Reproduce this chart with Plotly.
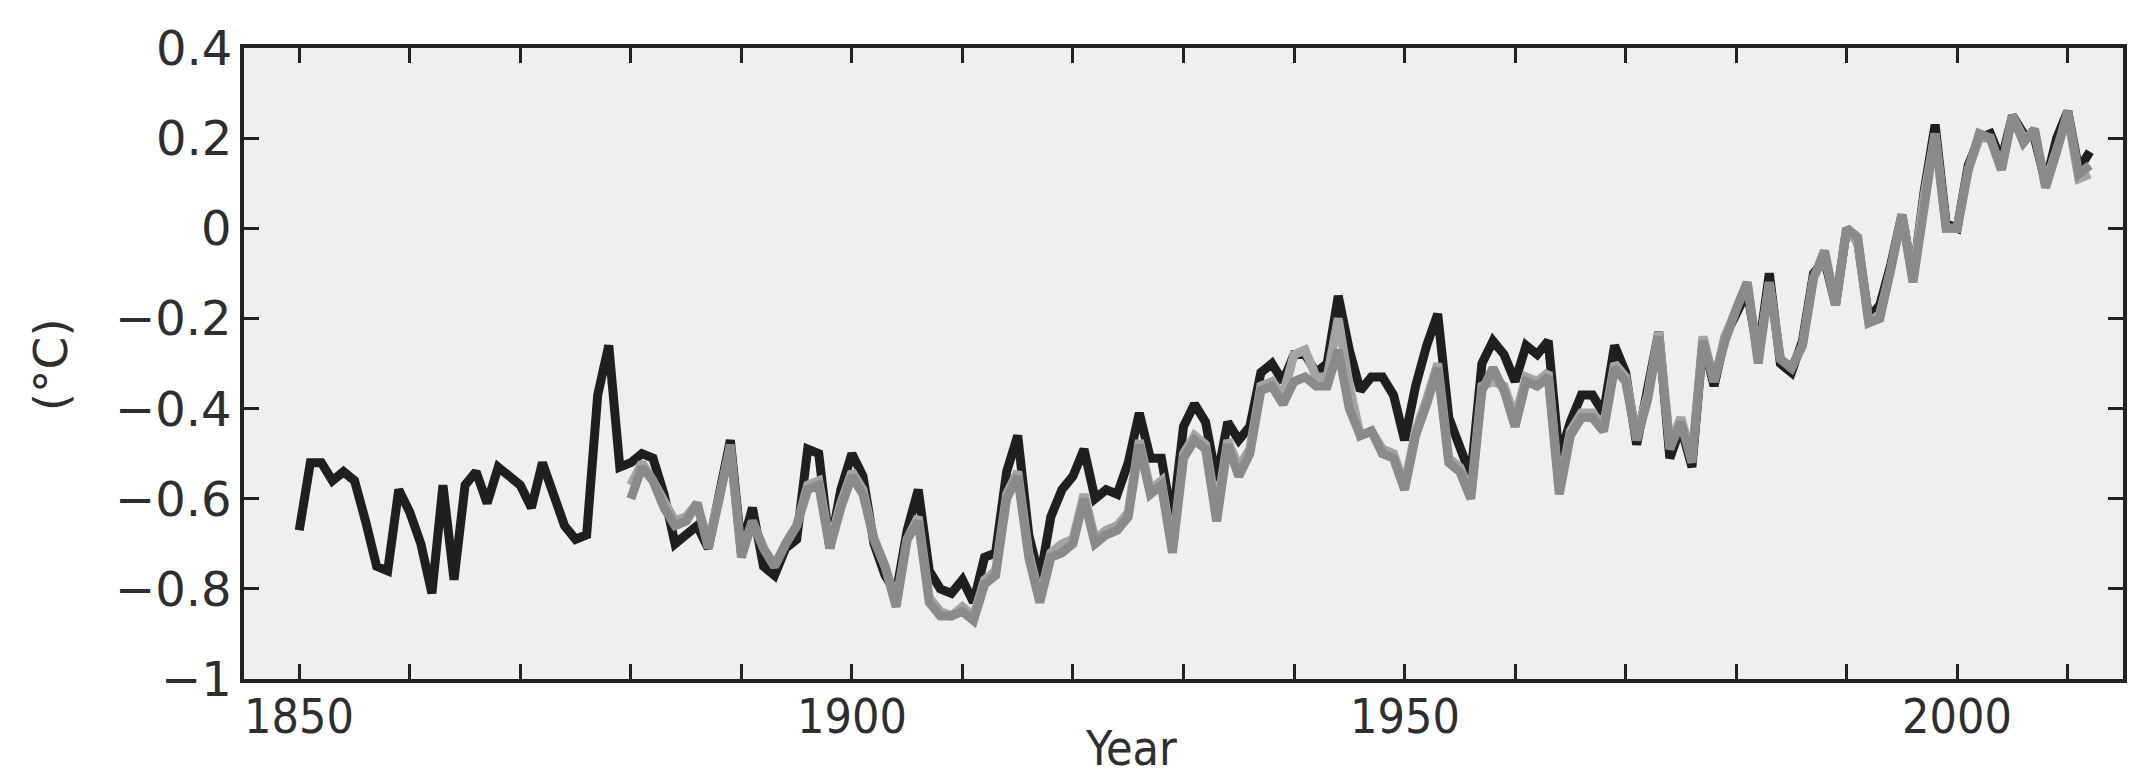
import plotly.graph_objects as go

# ---------------- data ----------------
years_black = list(range(1850, 2013))
black_vals = [
    -0.67, -0.52, -0.52, -0.56, -0.54, -0.56, -0.65, -0.75, -0.76, -0.58,   # 1850-59
    -0.63, -0.70, -0.81, -0.57, -0.78, -0.57, -0.54, -0.61, -0.53, -0.55,   # 1860-69
    -0.57, -0.62, -0.52, -0.59, -0.66, -0.69, -0.68, -0.37, -0.26, -0.53,   # 1870-79
    -0.52, -0.50, -0.51, -0.59, -0.70, -0.68, -0.66, -0.71, -0.60, -0.47,   # 1880-89
    -0.71, -0.62, -0.75, -0.77, -0.71, -0.69, -0.49, -0.50, -0.71, -0.58,   # 1890-99
    -0.50, -0.55, -0.70, -0.77, -0.81, -0.67, -0.58, -0.76, -0.80, -0.81,   # 1900-09
    -0.78, -0.83, -0.73, -0.72, -0.54, -0.46, -0.68, -0.78, -0.64, -0.58,   # 1910-19
    -0.55, -0.49, -0.60, -0.58, -0.59, -0.52, -0.41, -0.51, -0.51, -0.65,   # 1920-29
    -0.44, -0.39, -0.43, -0.56, -0.43, -0.47, -0.44, -0.32, -0.30, -0.34,   # 1930-39
    -0.28, -0.28, -0.32, -0.30, -0.15, -0.27, -0.36, -0.33, -0.33, -0.37,   # 1940-49
    -0.47, -0.35, -0.26, -0.19, -0.42, -0.49, -0.55, -0.30, -0.25, -0.28,   # 1950-59
    -0.34, -0.26, -0.28, -0.25, -0.51, -0.43, -0.37, -0.37, -0.41, -0.26,   # 1960-69
    -0.32, -0.48, -0.36, -0.23, -0.51, -0.44, -0.53, -0.25, -0.35, -0.24,   # 1970-79
    -0.19, -0.14, -0.28, -0.10, -0.30, -0.32, -0.25, -0.10, -0.07, -0.17,   # 1980-89
    0.00, -0.03, -0.20, -0.17, -0.08, 0.03, -0.11, 0.08, 0.23, 0.01,        # 1990-99
    0.00, 0.14, 0.20, 0.21, 0.15, 0.25, 0.21, 0.20, 0.10, 0.20,             # 2000-09
    0.26, 0.13, 0.17,                                                       # 2010-12
]

years_gray = list(range(1880, 2013))
gray_vals = [
    -0.60, -0.53, -0.56, -0.62, -0.66, -0.65, -0.61, -0.71, -0.60, -0.48,   # 1880-89
    -0.73, -0.65, -0.71, -0.75, -0.70, -0.66, -0.58, -0.57, -0.71, -0.62,   # 1890-99
    -0.55, -0.59, -0.69, -0.75, -0.84, -0.69, -0.65, -0.83, -0.86, -0.86,   # 1900-09
    -0.85, -0.87, -0.79, -0.77, -0.60, -0.55, -0.73, -0.83, -0.73, -0.72,   # 1910-19
    -0.70, -0.60, -0.70, -0.68, -0.67, -0.64, -0.48, -0.59, -0.57, -0.72,   # 1920-29
    -0.51, -0.47, -0.49, -0.65, -0.48, -0.55, -0.50, -0.36, -0.35, -0.39,   # 1930-39
    -0.34, -0.33, -0.35, -0.35, -0.27, -0.40, -0.46, -0.45, -0.50, -0.51,   # 1940-49
    -0.58, -0.46, -0.39, -0.31, -0.52, -0.54, -0.60, -0.36, -0.31, -0.36,   # 1950-59
    -0.44, -0.34, -0.35, -0.33, -0.59, -0.46, -0.42, -0.42, -0.45, -0.31,   # 1960-69
    -0.34, -0.47, -0.38, -0.24, -0.49, -0.43, -0.52, -0.25, -0.34, -0.25,   # 1970-79
    -0.18, -0.12, -0.30, -0.12, -0.29, -0.31, -0.26, -0.11, -0.05, -0.17,   # 1980-89
    0.00, -0.02, -0.21, -0.20, -0.09, 0.03, -0.12, 0.06, 0.21, 0.00,        # 1990-99
    0.00, 0.13, 0.21, 0.20, 0.13, 0.25, 0.19, 0.22, 0.09, 0.17,             # 2000-09
    0.26, 0.12, 0.14,                                                       # 2010-12
]

light_vals = [
    -0.57, -0.52, -0.56, -0.61, -0.65, -0.64, -0.61, -0.70, -0.60, -0.49,   # 1880-89
    -0.72, -0.65, -0.71, -0.75, -0.70, -0.66, -0.57, -0.56, -0.70, -0.61,   # 1890-99
    -0.54, -0.58, -0.69, -0.75, -0.83, -0.69, -0.64, -0.82, -0.85, -0.86,   # 1900-09
    -0.84, -0.86, -0.78, -0.76, -0.59, -0.54, -0.72, -0.82, -0.72, -0.70,   # 1910-19
    -0.69, -0.59, -0.69, -0.67, -0.66, -0.63, -0.47, -0.58, -0.56, -0.71,   # 1920-29
    -0.50, -0.46, -0.48, -0.63, -0.47, -0.53, -0.49, -0.35, -0.34, -0.37,   # 1930-39
    -0.28, -0.27, -0.33, -0.33, -0.20, -0.35, -0.46, -0.45, -0.49, -0.50,   # 1940-49
    -0.57, -0.45, -0.38, -0.30, -0.51, -0.53, -0.59, -0.35, -0.34, -0.35,   # 1950-59
    -0.42, -0.33, -0.34, -0.32, -0.58, -0.45, -0.41, -0.41, -0.44, -0.30,   # 1960-69
    -0.33, -0.46, -0.37, -0.23, -0.48, -0.42, -0.51, -0.24, -0.34, -0.24,   # 1970-79
    -0.18, -0.12, -0.29, -0.12, -0.29, -0.31, -0.26, -0.11, -0.06, -0.17,   # 1980-89
    0.00, -0.03, -0.21, -0.19, -0.09, 0.03, -0.11, 0.07, 0.21, 0.00,        # 1990-99
    0.00, 0.13, 0.20, 0.20, 0.13, 0.25, 0.20, 0.21, 0.10, 0.18,             # 2000-09
    0.25, 0.11, 0.12,                                                       # 2010-12
]

x_tickvals = list(range(1850, 2011, 10))
x_labelvals = [1850, 1900, 1950, 2000]
x_labeltext = ["1850", "1900", "1950", "2000"]
y_tickvals = [-1, -0.8, -0.6, -0.4, -0.2, 0, 0.2, 0.4]
y_ticktext = ["\u22121", "\u22120.8", "\u22120.6", "\u22120.4", "\u22120.2", "0", "0.2", "0.4"]

NARROW = "DejaVu Sans Condensed, Liberation Sans Narrow, sans-serif"
WIDE = "DejaVu Sans, Verdana, sans-serif"
TXT = "#2e2e2e"

# ---------------- figure ----------------
fig = go.Figure()
fig.add_trace(go.Scatter(x=years_black, y=black_vals, mode="lines",
                         line=dict(color="#1f1f1f", width=9), showlegend=False))
fig.add_trace(go.Scatter(x=years_gray, y=light_vals, mode="lines",
                         line=dict(color="#a4a4a4", width=9), showlegend=False))
fig.add_trace(go.Scatter(x=years_gray, y=gray_vals, mode="lines",
                         line=dict(color="#8a8a8a", width=9), showlegend=False))

axis_common = dict(showline=True, linecolor="#222222", linewidth=3.5, mirror="ticks",
                   ticks="inside", ticklen=15, tickwidth=3, tickcolor="#222222",
                   showgrid=False, zeroline=False)

fig.update_xaxes(range=[1845, 2015], tickmode="array", tickvals=x_tickvals,
                 showticklabels=False, **axis_common)
fig.update_yaxes(range=[-1, 0.4], tickmode="array", tickvals=y_tickvals,
                 showticklabels=False, **axis_common)

# y tick labels placed on the y scale
for yv, yt in zip(y_tickvals, y_ticktext):
    fig.add_annotation(text=yt, x=-0.0055, xref="paper", y=yv, yref="y",
                       xanchor="right", yanchor="middle", showarrow=False,
                       font=dict(family=WIDE, size=48, color=TXT))

# x tick labels placed on the x scale
for xv, xt in zip(x_labelvals, x_labeltext):
    fig.add_annotation(text=xt, x=xv, xref="x", y=-0.059, yref="paper",
                       xanchor="center", yanchor="middle", showarrow=False,
                       font=dict(family=NARROW, size=48, color=TXT))

fig.add_annotation(text="Year", xref="paper", yref="paper", x=0.472, y=-0.109,
                   xanchor="center", yanchor="middle", showarrow=False,
                   font=dict(family=NARROW, size=48, color=TXT))
fig.add_annotation(text="(\u00b0C)", xref="paper", yref="paper", x=-0.103, y=0.498,
                   xanchor="center", yanchor="middle", showarrow=False, textangle=-90,
                   font=dict(family=WIDE, size=47, color=TXT))

fig.update_layout(width=2137, height=775, autosize=False,
                  margin=dict(l=236, r=22, t=40, b=104, pad=0),
                  plot_bgcolor="#efefef", paper_bgcolor="#ffffff",
                  showlegend=False)

fig.write_html("out.html")
